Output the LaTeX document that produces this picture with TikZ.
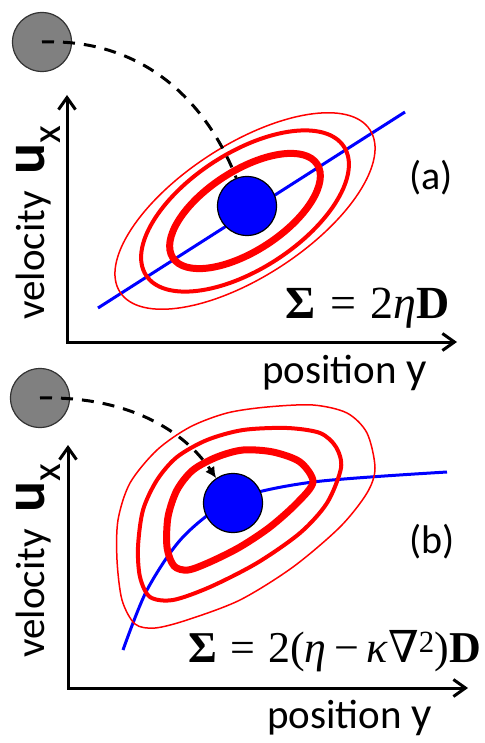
\documentclass[tikz,border=0pt]{standalone}
\usepackage{fontspec}
\setmainfont{Carlito}
\newfontfamily\tms{Liberation Serif}
\newfontfamily\djv{DejaVu Serif}
\usetikzlibrary{arrows.meta}

\begin{document}
\begin{tikzpicture}[x=1pt, y=-1pt,
  axisarr/.style={line width=3pt, {Straight Barb[length=12pt, width=17pt]}-{Straight Barb[length=12pt, width=17pt]}},
  ball/.style={circle, draw=black!80, line width=1.2pt, fill=gray, minimum size=59pt, inner sep=0pt},
  blob/.style={circle, draw=black, line width=1.2pt, fill=blue, minimum size=59pt, inner sep=0pt},
  traj/.style={line width=3pt, dash pattern=on 12pt off 9pt},
  fit line/.style={blue, line width=3pt},
  thinc/.style={red, line width=1.5pt},
  midc/.style={red, line width=4pt},
  thickc/.style={red, line width=7pt},
  lbl/.style={font=\fontsize{41}{41}\selectfont, inner sep=0pt},
  tag/.style={font=\fontsize{40}{40}\selectfont, inner sep=0pt},
  eqn/.style={font=\tms, inner sep=0pt, anchor=base west}
]
\useasboundingbox (0,0) rectangle (484,743);

% panel (a): linear
\coordinate (oa) at (67,342);
\coordinate (ya) at (67,95);
\coordinate (xa) at (457,342);
\draw[axisarr] (ya) -- (oa) -- (xa);
\draw[fit line] (98,308) -- (405,112);
\coordinate (ca) at (245,211);
\draw[thinc, rotate around={33:(ca)}] (ca) ellipse [x radius=149, y radius=66];
\draw[midc, rotate around={33:(ca)}] (ca) ellipse [x radius=118, y radius=58];
\draw[thickc, rotate around={33:(ca)}] (ca) ellipse [x radius=86, y radius=40];
\node[ball] (pa) at (42,42) {};
\node[blob] (ma) at (247,206) {};
\draw[traj] (pa.center) .. controls (150,38) and (210,110) .. (ma);
\node[lbl, rotate=90, anchor=base west] (vla) at (44,320) {velocity\hspace{17pt}{\fontsize{58}{58}\selectfont\bfseries u}\lower16pt\hbox{x}};
\node[lbl, anchor=base west] (pya) at (262,383) {position {\fontsize{45}{45}\selectfont y}};
\node[tag] (taga) at (431,178) {(a)};
\node[eqn] (eqa) at (285,318) {\fontsize{46}{46}\selectfont\textbf{Σ}\hspace{0.32em}=\hspace{0.32em}2\textit{η}\textbf{D}};

% panel (b): nonlinear
\coordinate (ob) at (68,688);
\coordinate (yb) at (68,445);
\coordinate (xb) at (468,688);
\draw[axisarr] (yb) -- (ob) -- (xb);
\draw[fit line] plot[smooth] coordinates {(123,650) (147,590) (183,537) (233,500) (313,482) (447,472)};
\draw[thinc] plot[smooth cycle] coordinates {(375,468) (367,433) (347,413) (313,405) (267,407) (227,413) (190,427) (157,450) (130,483) (118,520) (117,560) (122,600) (135,624) (155,628) (187,620) (240,600) (293,567) (340,527) (367,493)};
\draw[midc] plot[smooth cycle] coordinates {(341,468) (336,447) (320,433) (287,428) (243,430) (207,440) (177,457) (157,480) (143,510) (138,547) (140,577) (150,597) (173,600) (210,587) (257,563) (300,533) (327,503)};
\draw[thickc] plot[smooth cycle] coordinates {(313,482) (300,462) (273,452) (243,450) (217,457) (193,470) (177,490) (168,517) (167,547) (174,566) (188,570) (210,562) (240,547) (270,527) (297,503)};
\node[ball] (pb) at (40,398) {};
\node[blob] (mb) at (233,503) {};
\draw[traj, -{Latex[length=11pt, width=11pt]}] (pb.center) .. controls (120,396) and (180,425) .. (mb);
\node[lbl, rotate=90, anchor=base west] (vlb) at (44,658) {velocity\hspace{17pt}{\fontsize{58}{58}\selectfont\bfseries u}\lower16pt\hbox{x}};
\node[lbl, anchor=base west] (pyb) at (267,728) {position {\fontsize{45}{45}\selectfont y}};
\node[tag] (tagb) at (432,542) {(b)};
\node[eqn] (eqb) at (188,662) {\fontsize{44}{44}\selectfont\textbf{Σ}\hspace{0.3em}=\hspace{0.3em}2(\textit{η}\hspace{0.17em}−\hspace{0.17em}\textit{κ}{\djv ∇}\textsuperscript{2})\textbf{D}};
\end{tikzpicture}
\end{document}
